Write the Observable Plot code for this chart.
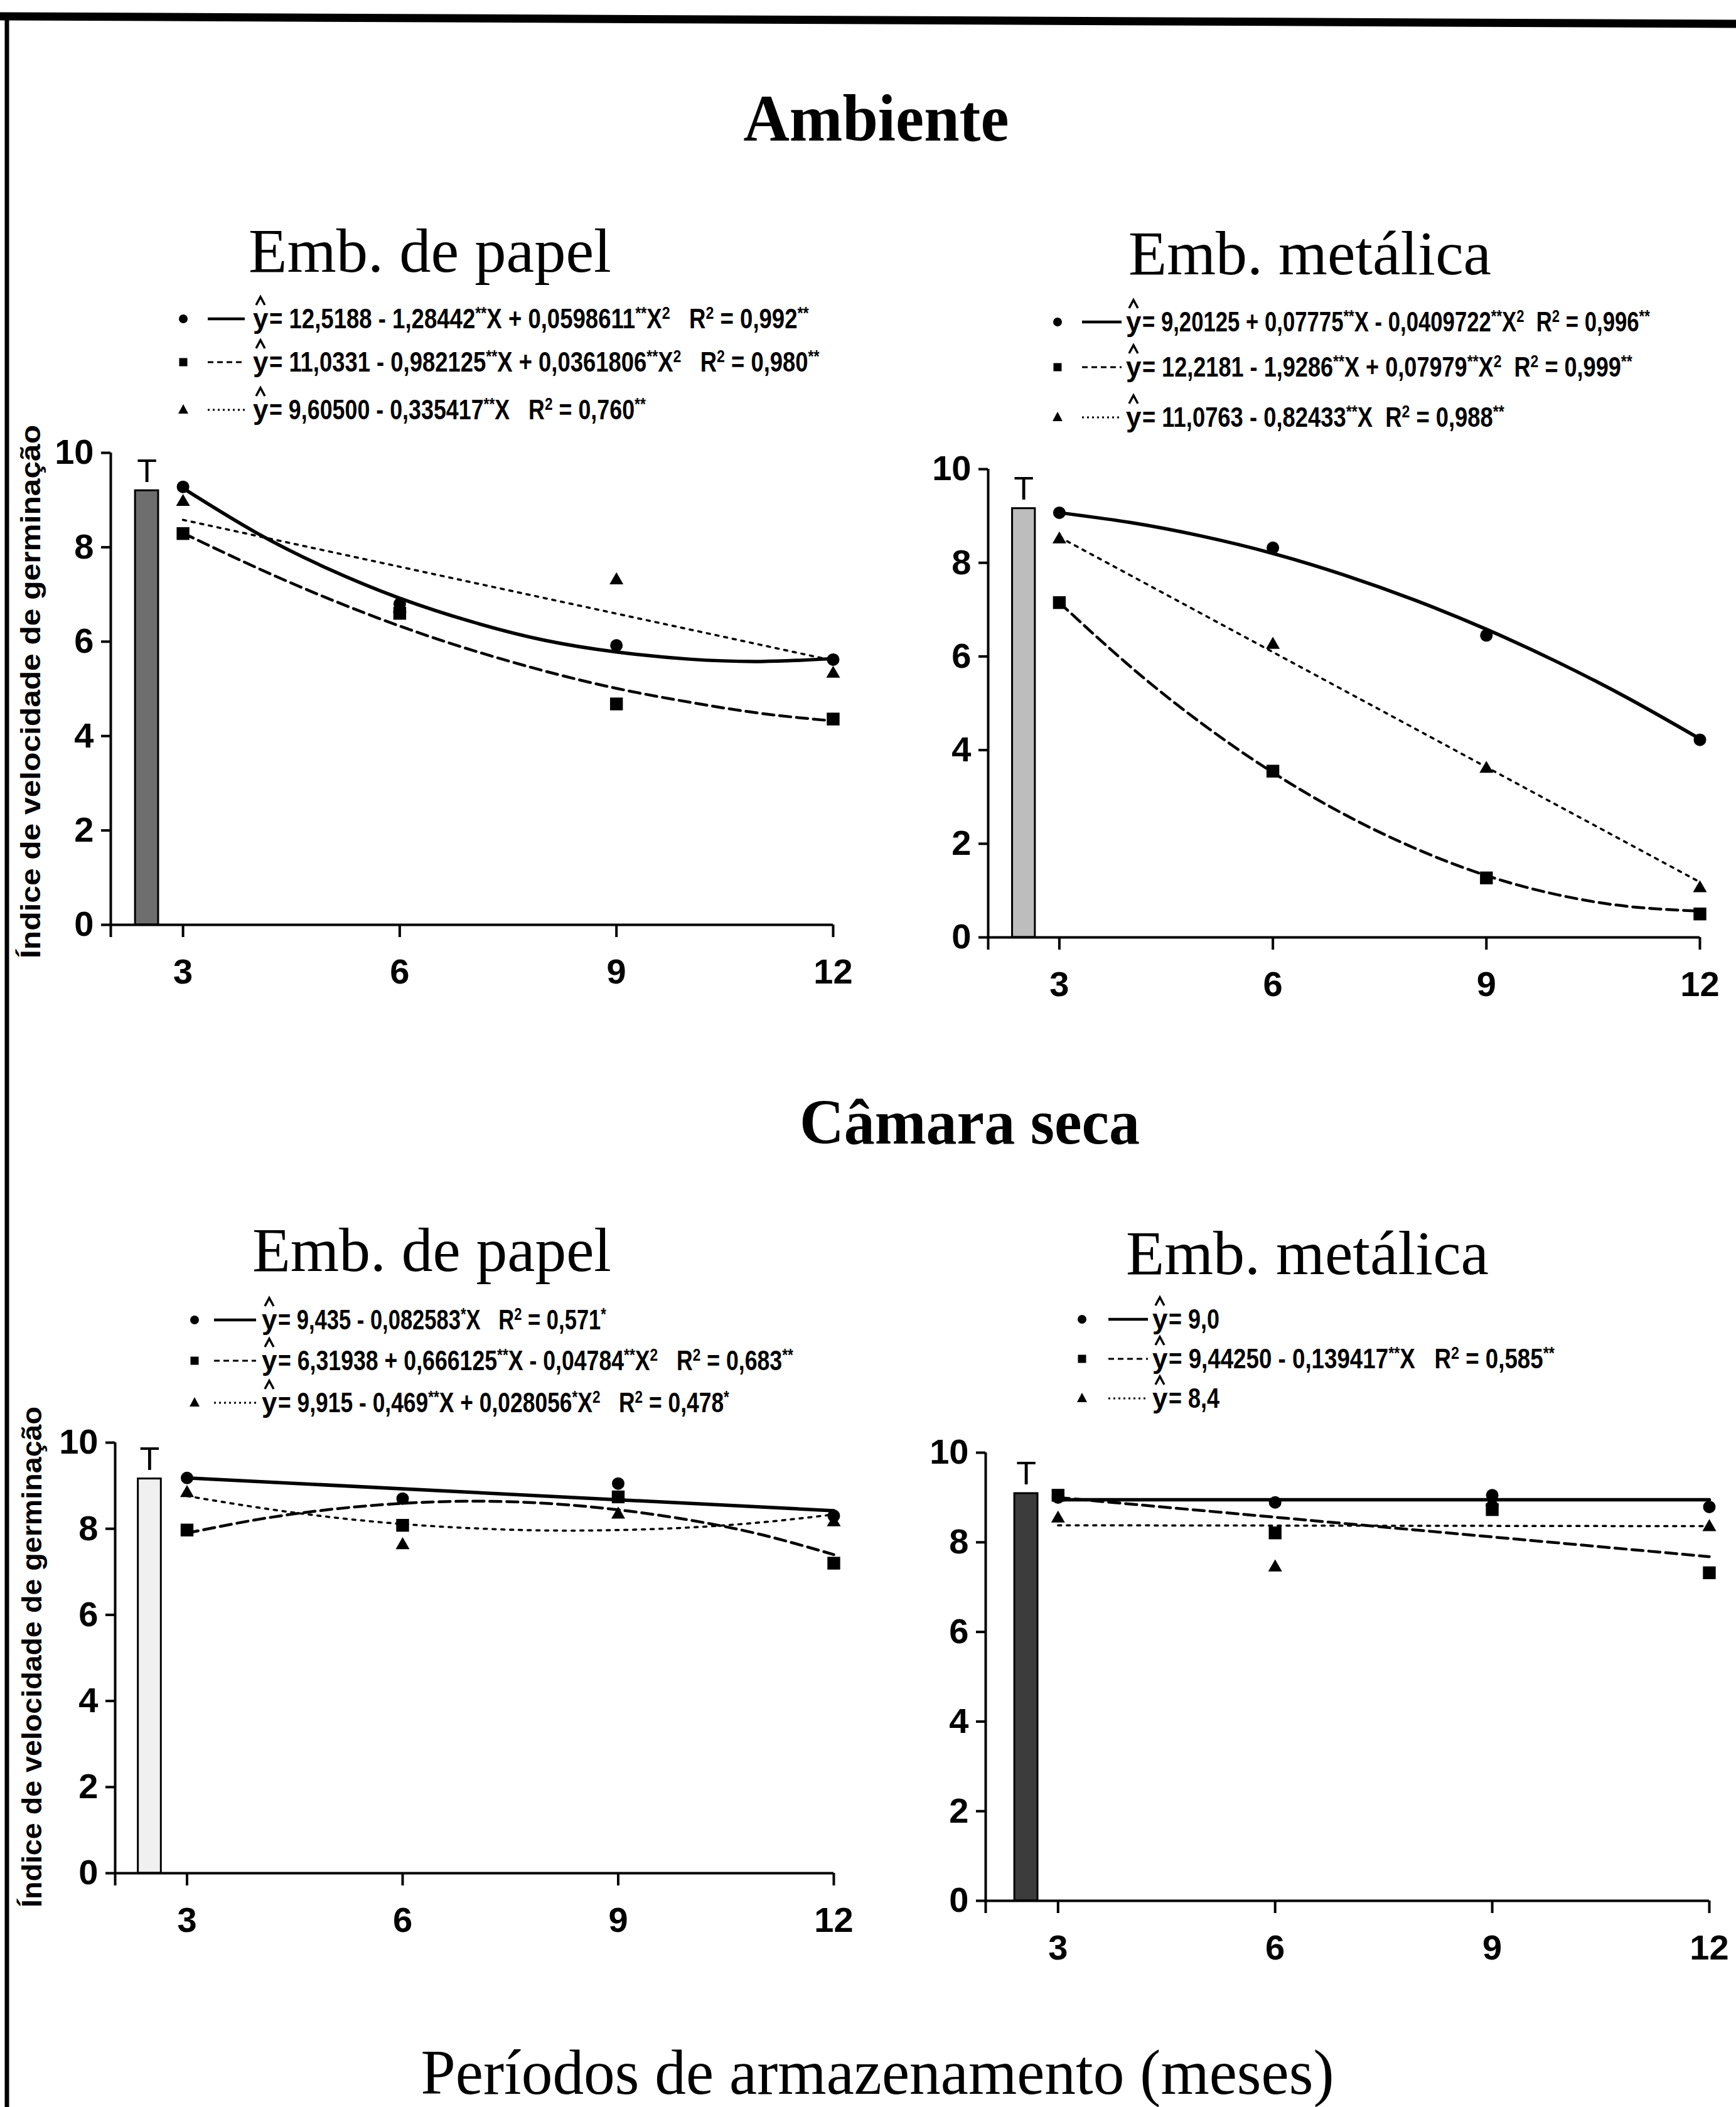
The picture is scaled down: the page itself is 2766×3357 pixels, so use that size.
<!DOCTYPE html>
<html lang="pt">
<head>
<meta charset="utf-8">
<script src="https://cdn.jsdelivr.net/npm/d3@7"></script>
<script src="https://cdn.jsdelivr.net/npm/@observablehq/plot@0.6"></script>
<style>
  html, body { margin: 0; padding: 0; background: #fff; }
  #page { position: relative; width: 2766px; height: 3357px; overflow: hidden; background: #fff; }
  #page > svg { position: absolute; }
</style>
</head>
<body>
<div id="page"></div>
<script>
// ---------------- DATA ----------------
const months = [3, 6, 9, 12];
const fitMonths = [3, 4, 5, 6, 7, 8, 9, 10, 11, 12];
const lineEnds = [3, 12];
const xTicks = [2, 3, 6, 9, 12];
const yTicks = [0, 2, 4, 6, 8, 10];
const controlLabel = "T";

// Ambiente — Emb. de papel
const ambPapelControl = 9.2;
const ambPapelCirc = [9.28, 6.80, 5.92, 5.62];
const ambPapelSq = [8.29, 6.60, 4.68, 4.36];
const ambPapelTri = [8.96, 6.70, 7.30, 5.32];
const ambPapelFitCirc = [9.25, 8.32, 7.55, 6.92, 6.42, 6.03, 5.78, 5.63, 5.58, 5.64];
const ambPapelFitSq = [8.30, 7.58, 6.92, 6.33, 5.82, 5.38, 5.01, 4.72, 4.48, 4.32];
const ambPapelFitTri = [8.58, 5.60];
const ambPapelEq = [
  "= 12,5188 - 1,28442{**}X + 0,0598611{**}X{2}   R{2} = 0,992{**}",
  "= 11,0331 - 0,982125{**}X + 0,0361806{**}X{2}   R{2} = 0,980{**}",
  "= 9,60500 - 0,335417{**}X   R{2} = 0,760{**}"
];

// Ambiente — Emb. metálica
const ambMetControl = 9.16;
const ambMetCirc = [9.07, 8.32, 6.45, 4.22];
const ambMetSq = [7.15, 3.55, 1.27, 0.50];
const ambMetTri = [8.50, 6.25, 3.60, 1.05];
const ambMetFitCirc = [9.07, 8.86, 8.57, 8.20, 7.74, 7.20, 6.58, 5.88, 5.10, 4.24];
const ambMetFitSq = [7.15, 5.78, 4.57, 3.52, 2.63, 1.90, 1.32, 0.91, 0.66, 0.56];
const ambMetFitTri = [8.55, 1.18];
const ambMetEq = [
  "= 9,20125 + 0,07775{**}X - 0,0409722{**}X{2}  R{2} = 0,996{**}",
  "= 12,2181 - 1,9286{**}X + 0,07979{**}X{2}  R{2} = 0,999{**}",
  "= 11,0763 - 0,82433{**}X  R{2} = 0,988{**}"
];

// Câmara seca — Emb. de papel
const secPapelControl = 9.16;
const secPapelCirc = [9.18, 8.70, 9.05, 8.30];
const secPapelSq = [7.97, 8.08, 8.74, 7.20];
const secPapelTri = [8.83, 7.62, 8.33, 8.15];
const secPapelFitCirc = [9.18, 8.42];
const secPapelFitSq = [7.90, 8.22, 8.45, 8.59, 8.64, 8.59, 8.44, 8.20, 7.86, 7.40];
const secPapelFitTri = [8.76, 8.49, 8.27, 8.11, 8.01, 7.96, 7.97, 8.03, 8.15, 8.33];
const secPapelEq = [
  "= 9,435 - 0,082583{*}X   R{2} = 0,571{*}",
  "= 6,31938 + 0,666125{**}X - 0,04784{**}X{2}   R{2} = 0,683{**}",
  "= 9,915 - 0,469{**}X + 0,028056{*}X{2}   R{2} = 0,478{*}"
];

// Câmara seca — Emb. metálica
const secMetControl = 9.09;
const secMetCirc = [9.00, 8.89, 9.05, 8.79];
const secMetSq = [9.05, 8.21, 8.73, 7.32];
const secMetTri = [8.53, 7.44, 8.90, 8.34];
const secMetFitCirc = [8.95, 8.95];
const secMetFitSq = [9.00, 7.68];
const secMetFitTri = [8.38, 8.36];
const secMetEq = [
  "= 9,0",
  "= 9,44250 - 0,139417{**}X   R{2} = 0,585{**}",
  "= 8,4"
];

const sectionTitles = ["Ambiente", "Câmara seca"];
const panelTitles = ["Emb. de papel", "Emb. metálica", "Emb. de papel", "Emb. metálica"];
const yAxisTitle = "Índice de velocidade de germinação";
const xAxisTitle = "Períodos de armazenamento (meses)";

// ---------------- DRAWING ----------------
const SANS = "'Liberation Sans', Arial, Helvetica, sans-serif";
const SERIF = "'Liberation Serif', 'Times New Roman', serif";
const page = document.getElementById("page");
const pts = (xs, ys) => xs.map((x, i) => ({x, y: ys[i]}));

function panel(cfg) {
  const control = [{x1: cfg.barX - 0.16, x2: cfg.barX + 0.16, y1: 0, y2: cfg.control, t: controlLabel}];
  const svg = Plot.plot({
    width: cfg.width, height: cfg.height,
    marginLeft: cfg.mL, marginRight: cfg.mR, marginTop: cfg.mT, marginBottom: cfg.mB,
    x: {domain: [2, 12]},
    y: {domain: [0, 10]},
    style: {fontFamily: SANS, fontSize: "56px", fontWeight: "bold", color: "#000", background: "transparent", overflow: "visible"},
    marks: [
      Plot.rect(control, {x1: "x1", x2: "x2", y1: "y1", y2: "y2", fill: cfg.barFill, stroke: "#000", strokeWidth: 3}),
      Plot.text(control, {x: d => (d.x1 + d.x2) / 2, y: "y2", text: "t", lineAnchor: "bottom", dy: -14, fontSize: 52, fontWeight: "normal", fill: "#000"}),
      Plot.ruleY([0], {stroke: "#000", strokeWidth: 4}),
      Plot.ruleX([2], {stroke: "#000", strokeWidth: 4}),
      Plot.axisX(xTicks, {tickSize: 20, tickPadding: 34, strokeWidth: 4, fontSize: 56, fontWeight: "bold", label: null,
        tickFormat: d => d === 2 ? "" : String(d)}),
      Plot.axisY(yTicks, {tickSize: 15, tickPadding: 12, strokeWidth: 4, fontSize: 56, fontWeight: "bold", label: null,
        tickFormat: d => String(d)}),
      Plot.line(pts(cfg.fitCircX, cfg.fitCirc), {x: "x", y: "y", curve: "natural", stroke: "#000", strokeWidth: 5.5}),
      Plot.line(pts(cfg.fitSqX, cfg.fitSq), {x: "x", y: "y", curve: "natural", stroke: "#000", strokeWidth: 4.5, strokeDasharray: "18,9"}),
      Plot.line(pts(cfg.fitTriX, cfg.fitTri), {x: "x", y: "y", curve: "natural", stroke: "#000", strokeWidth: 3.5, strokeDasharray: "5,9"}),
      Plot.dot(pts(months, cfg.sq), {x: "x", y: "y", symbol: "square", r: 11.5, fill: "#000"}),
      Plot.dot(pts(months, cfg.tri), {x: "x", y: "y", symbol: "triangle", r: 8.2, fill: "#000"}),
      Plot.dot(pts(months, cfg.circ), {x: "x", y: "y", symbol: "circle", r: 10, fill: "#000"})
    ]
  });
  svg.style.left = cfg.left + "px";
  svg.style.top = cfg.top + "px";
  page.appendChild(svg);
}

panel({left: 0, top: 640, width: 1380, height: 933, mL: 176, mR: 53, mT: 81, mB: 100, barX: 2.5, barFill: "#6e6e6e",
  control: ambPapelControl, circ: ambPapelCirc, sq: ambPapelSq, tri: ambPapelTri,
  fitCircX: fitMonths, fitCirc: ambPapelFitCirc, fitSqX: fitMonths, fitSq: ambPapelFitSq, fitTriX: lineEnds, fitTri: ambPapelFitTri});
panel({left: 1400, top: 640, width: 1353, height: 953, mL: 174, mR: 45, mT: 107, mB: 100, barX: 2.5, barFill: "#bdbdbd",
  control: ambMetControl, circ: ambMetCirc, sq: ambMetSq, tri: ambMetTri,
  fitCircX: fitMonths, fitCirc: ambMetFitCirc, fitSqX: fitMonths, fitSq: ambMetFitSq, fitTriX: lineEnds, fitTri: ambMetFitTri});
panel({left: 0, top: 2220, width: 1380, height: 864, mL: 183, mR: 52, mT: 78, mB: 100, barX: 2.48, barFill: "#f0f0f0",
  control: secPapelControl, circ: secPapelCirc, sq: secPapelSq, tri: secPapelTri,
  fitCircX: lineEnds, fitCirc: secPapelFitCirc, fitSqX: fitMonths, fitSq: secPapelFitSq, fitTriX: fitMonths, fitTri: secPapelFitTri});
panel({left: 1400, top: 2230, width: 1370, height: 898, mL: 170, mR: 47, mT: 84, mB: 100, barX: 2.56, barFill: "#3c3c3c",
  control: secMetControl, circ: secMetCirc, sq: secMetSq, tri: secMetTri,
  fitCircX: lineEnds, fitCirc: secMetFitCirc, fitSqX: lineEnds, fitSq: secMetFitSq, fitTriX: lineEnds, fitTri: secMetFitTri});

// ---------------- OVERLAY: titles, legends, borders ----------------
const ov = d3.select(page).append("svg").attr("width", 2766).attr("height", 3357)
  .style("left", "0px").style("top", "0px");

// page border (scan frame)
ov.append("line").attr("x1", 0).attr("y1", 26).attr("x2", 2766).attr("y2", 38).attr("stroke", "#000").attr("stroke-width", 13);
ov.append("line").attr("x1", 11).attr("y1", 20).attr("x2", 11).attr("y2", 3357).attr("stroke", "#000").attr("stroke-width", 7);

function label(x, y, s, o) {
  const t = ov.append("text").attr("x", x).attr("y", y).text(s)
    .attr("font-family", o.family).attr("font-size", o.size).attr("font-weight", o.weight || "normal")
    .attr("text-anchor", o.anchor || "middle").attr("fill", "#000");
  if (o.len) t.attr("textLength", o.len).attr("lengthAdjust", "spacingAndGlyphs");
  return t;
}

label(1396, 224, sectionTitles[0], {family: SERIF, size: 106, weight: "bold", len: 423});
label(1545, 1822, sectionTitles[1], {family: SERIF, size: 102, weight: "bold", len: 542});
label(685, 433, panelTitles[0], {family: SERIF, size: 100, len: 578});
label(2087, 437, panelTitles[1], {family: SERIF, size: 100, len: 578});
label(688, 2025, panelTitles[2], {family: SERIF, size: 100, len: 572});
label(2083, 2030, panelTitles[3], {family: SERIF, size: 100, len: 578});
label(1398, 3336, xAxisTitle, {family: SERIF, size: 102, len: 1455});

label(0, 0, yAxisTitle, {family: SANS, size: 44, weight: "bold", len: 850})
  .attr("transform", "translate(48,1102) rotate(-90)").attr("dominant-baseline", "central");
label(0, 0, yAxisTitle, {family: SANS, size: 44, weight: "bold", len: 798})
  .attr("transform", "translate(50,2640) rotate(-90)").attr("dominant-baseline", "central");

// legends
const legendStyles = [
  {symbol: "circle", dash: null, w: 4.5},
  {symbol: "square", dash: "9,6", w: 3},
  {symbol: "triangle", dash: "3,5", w: 3}
];
function legend(L, eqs) {
  eqs.forEach((eq, i) => {
    const st = legendStyles[i];
    const base = L.base[i];
    const cy = base - 15;
    if (st.symbol === "circle") ov.append("circle").attr("cx", L.mx).attr("cy", cy).attr("r", 7).attr("fill", "#000");
    else if (st.symbol === "square") ov.append("rect").attr("x", L.mx - 6.5).attr("y", cy - 6.5).attr("width", 13).attr("height", 13).attr("fill", "#000");
    else ov.append("path").attr("d", `M${L.mx},${cy - 9}L${L.mx + 8},${cy + 6}L${L.mx - 8},${cy + 6}Z`).attr("fill", "#000");
    const ln = ov.append("line").attr("x1", L.l1).attr("x2", L.l2).attr("y1", cy).attr("y2", cy)
      .attr("stroke", "#000").attr("stroke-width", st.w);
    if (st.dash) ln.attr("stroke-dasharray", st.dash);
    // y with hat (hat drawn as a small chevron)
    ov.append("text").attr("x", L.yx).attr("y", base).text("y")
      .attr("font-family", SANS).attr("font-size", 44).attr("font-weight", "bold");
    const hx = L.yx + 12, hy = base - 44;
    ov.append("path").attr("d", `M${hx - 7},${hy + 7}L${hx},${hy - 6}L${hx + 7},${hy + 7}`)
      .attr("fill", "none").attr("stroke", "#000").attr("stroke-width", 3.5);
    // equation: laid out at natural size, then condensed horizontally to the reference width
    const x0 = L.yx + 26;
    const g = ov.append("g").attr("transform", `translate(${x0},${base})`);
    const t = g.append("text").attr("x", 0).attr("y", 0)
      .attr("font-family", SANS).attr("font-size", 44).attr("font-weight", "bold").style("white-space", "pre");
    let up = false;
    eq.split(/(\{[^}]*\})/).filter(Boolean).forEach(p => {
      if (p[0] === "{") {
        t.append("tspan").attr("dy", up ? 0 : -15).attr("font-size", 28).text(p.slice(1, -1));
        up = true;
      } else {
        t.append("tspan").attr("dy", up ? 15 : 0).text(p);
        up = false;
      }
    });
    const natural = t.node().getComputedTextLength() || 1;
    const sx = (L.ends[i] - x0) / natural;
    g.attr("transform", `translate(${x0},${base}) scale(${sx},1)`);
  });
}
legend({mx: 292, l1: 331, l2: 390, yx: 403, base: [523, 592, 668], ends: [1289, 1306, 1029]}, ambPapelEq);
legend({mx: 1685, l1: 1724, l2: 1787, yx: 1794, base: [528, 600, 680], ends: [2629, 2601, 2397]}, ambMetEq);
legend({mx: 310, l1: 341, l2: 408, yx: 417, base: [2118, 2183, 2250], ends: [966, 1264, 1162]}, secPapelEq);
legend({mx: 1724, l1: 1766, l2: 1829, yx: 1836, base: [2117, 2180, 2243], ends: [1943, 2477, 1943]}, secMetEq);
</script>
</body>
</html>
